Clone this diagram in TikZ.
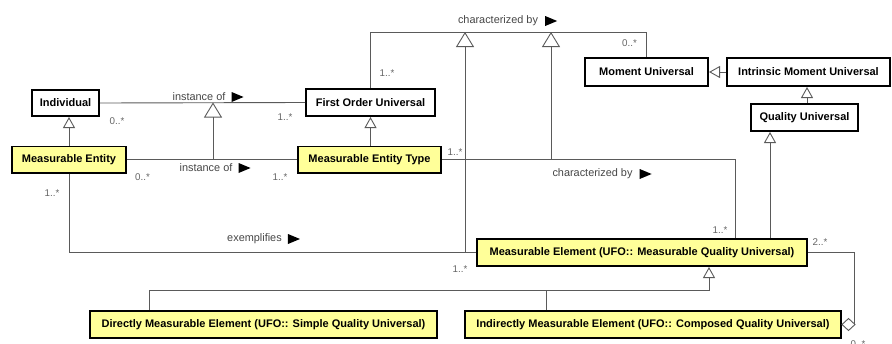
\documentclass[tikz,border=0pt]{standalone}
\usepackage{fontspec}
\setmainfont{Liberation Sans}
\usetikzlibrary{arrows.meta}
\definecolor{boxyellow}{RGB}{255,255,153}
\definecolor{linegray}{RGB}{90,90,90}
\definecolor{txtgray}{RGB}{70,70,70}
\definecolor{multgray}{RGB}{100,100,100}
\tikzset{
  box/.style={draw=black, line width=1.6pt, fill=white, inner sep=0pt,
    font=\fontsize{11}{12}\selectfont\bfseries},
  ybox/.style={box, fill=boxyellow},
  conn/.style={draw=linegray, line width=0.9pt},
  gen/.style={conn, -{Triangle[open, length=11pt, width=12pt]}},
  biggen/.style={conn, -{Triangle[open, length=15pt, width=18pt]}},
  lbl/.style={font=\fontsize{10.9}{12}\selectfont, text=txtgray, inner sep=0pt},
  mult/.style={font=\fontsize{9.8}{10}\selectfont, text=multgray, inner sep=0pt},
  dirarrow/.style={fill=black}
}
\begin{document}
\begin{tikzpicture}[x=1pt,y=-1pt]
\useasboundingbox (0,0) rectangle (892,343);
% boxes
\node[box, minimum width=67.4pt, minimum height=26.4pt] (ind) at (65.5,103) {Individual};
\node[box, minimum width=129.4pt, minimum height=27.4pt] (fou) at (370.5,102.5) {First Order Universal};
\node[ybox, minimum width=114.4pt, minimum height=26.4pt] (me) at (69,159.5) {Measurable Entity};
\node[ybox, minimum width=143.4pt, minimum height=26.4pt] (met) at (369.5,159.5) {Measurable Entity Type};
\node[box, minimum width=123.4pt, minimum height=28.4pt] (mu) at (646.5,72) {Moment Universal};
\node[box, minimum width=163.4pt, minimum height=28.4pt] (imu) at (808.5,72) {Intrinsic Moment Universal};
\node[box, minimum width=107.4pt, minimum height=27.4pt] (qu) at (804.5,117.5) {Quality Universal};
\node[ybox, minimum width=330.4pt, minimum height=27.4pt] (mel) at (642,252.5) {Measurable Element (UFO:: Measurable Quality Universal)};
\node[ybox, minimum width=347.4pt, minimum height=27.4pt] (dme) at (263.5,324.5) {Directly Measurable Element (UFO:: Simple Quality Universal)};
\node[ybox, minimum width=376.4pt, minimum height=27.4pt] (ime) at (653,324.5) {Indirectly Measurable Element (UFO:: Composed Quality Universal)};
% coordinates
\coordinate (io1) at (213,102.5);
\coordinate (io2) at (213,159.5);
\coordinate (cbL) at (370.5,32);
\coordinate (cbR) at (646.5,32);
\coordinate (cbA) at (465,32);
\coordinate (cbB) at (551,32);
\coordinate (exA) at (465,252.5);
\coordinate (cb2R) at (735,159.5);
\coordinate (cb2B) at (551,159.5);
\coordinate (gj) at (709,290);
\coordinate (agR) at (854,252.5);
\coordinate (agB) at (854,323.5);
% instance of (Individual - FOU)
\draw[conn] (ind.east) -- (fou.west);
\node[lbl] (lio1) at (199,97) {instance of};
\fill[dirarrow] ([xshift=6pt]lio1.east) ++(0,-5) -- ++(12,5) -- ++(-12,5) -- cycle;
\node[mult] (m1) at (117,121) {0..*};
\node[mult] (m2) at (285,117) {1..*};
% instance of (ME - MET)
\draw[conn] (me.east) -- (met.west);
\node[lbl] (lio2) at (206,168) {instance of};
\fill[dirarrow] ([xshift=6pt]lio2.east) ++(0,-5) -- ++(12,5) -- ++(-12,5) -- cycle;
\node[mult] (m3) at (142.5,177) {0..*};
\node[mult] (m4) at (280,177) {1..*};
\draw[biggen] (io2) -- (io1);
% generalizations
\draw[gen] (me.north) -- (me.north |- ind.south);
\draw[gen] (met.north -| fou.south) -- (fou.south);
\draw[gen] (imu.west) -- (mu.east);
\draw[gen] ([xshift=2.5pt]qu.north) -- ([xshift=2.5pt]qu.north |- imu.south);
\draw[gen] ([xshift=128pt]mel.north) -- ([xshift=128pt]mel.north |- qu.south);
% characterized by (FOU - MU)
\draw[conn] (fou.north) -- (cbL) -- (cbR) -- (mu.north);
\node[lbl] (lcb1) at (498,21) {characterized by};
\fill[dirarrow] ([xshift=7pt]lcb1.east) ++(0,-5) -- ++(12,5) -- ++(-12,5) -- cycle;
\node[mult] (m5) at (387,73) {1..*};
\node[mult] (m6) at (629.5,43) {0..*};
% characterized by (MET - MEl)
\draw[conn] (met.east) -- (cb2R) -- (cb2R |- mel.north);
\node[lbl] (lcb2) at (592.5,174) {characterized by};
\fill[dirarrow] ([xshift=7pt]lcb2.east) ++(0,-5) -- ++(12,5) -- ++(-12,5) -- cycle;
\node[mult] (m7) at (455,152) {1..*};
\node[mult] (m8) at (720,230) {1..*};
\draw[biggen] (cb2B) -- (cbB);
% exemplifies
\draw[conn] (me.south) |- (mel.west);
\node[lbl] (lex) at (254.5,239) {exemplifies};
\fill[dirarrow] ([xshift=6pt]lex.east) ++(0,-5) -- ++(12,5) -- ++(-12,5) -- cycle;
\node[mult] (m9) at (52,193) {1..*};
\node[mult] (m10) at (460,269) {1..*};
\draw[biggen] (exA) -- (cbA);
% specialisations of Measurable Element
\draw[gen] ([xshift=-114.5pt]dme.north) |- (gj) -- (gj |- mel.south);
\draw[conn] ([xshift=-107pt]ime.north) -- ([xshift=-107pt]ime.north |- gj);
% aggregation
\draw[conn] (mel.east) -- (agR) -- (agB);
\draw[conn, fill=white] (ime.east) -- ++(6.5,-6) -- ++(6.5,6) -- ++(-6.5,6) -- cycle;
\node[mult] (m11) at (820,242) {2..*};
\node[mult] (m12) at (858,344) {0..*};
\end{tikzpicture}
\end{document}
